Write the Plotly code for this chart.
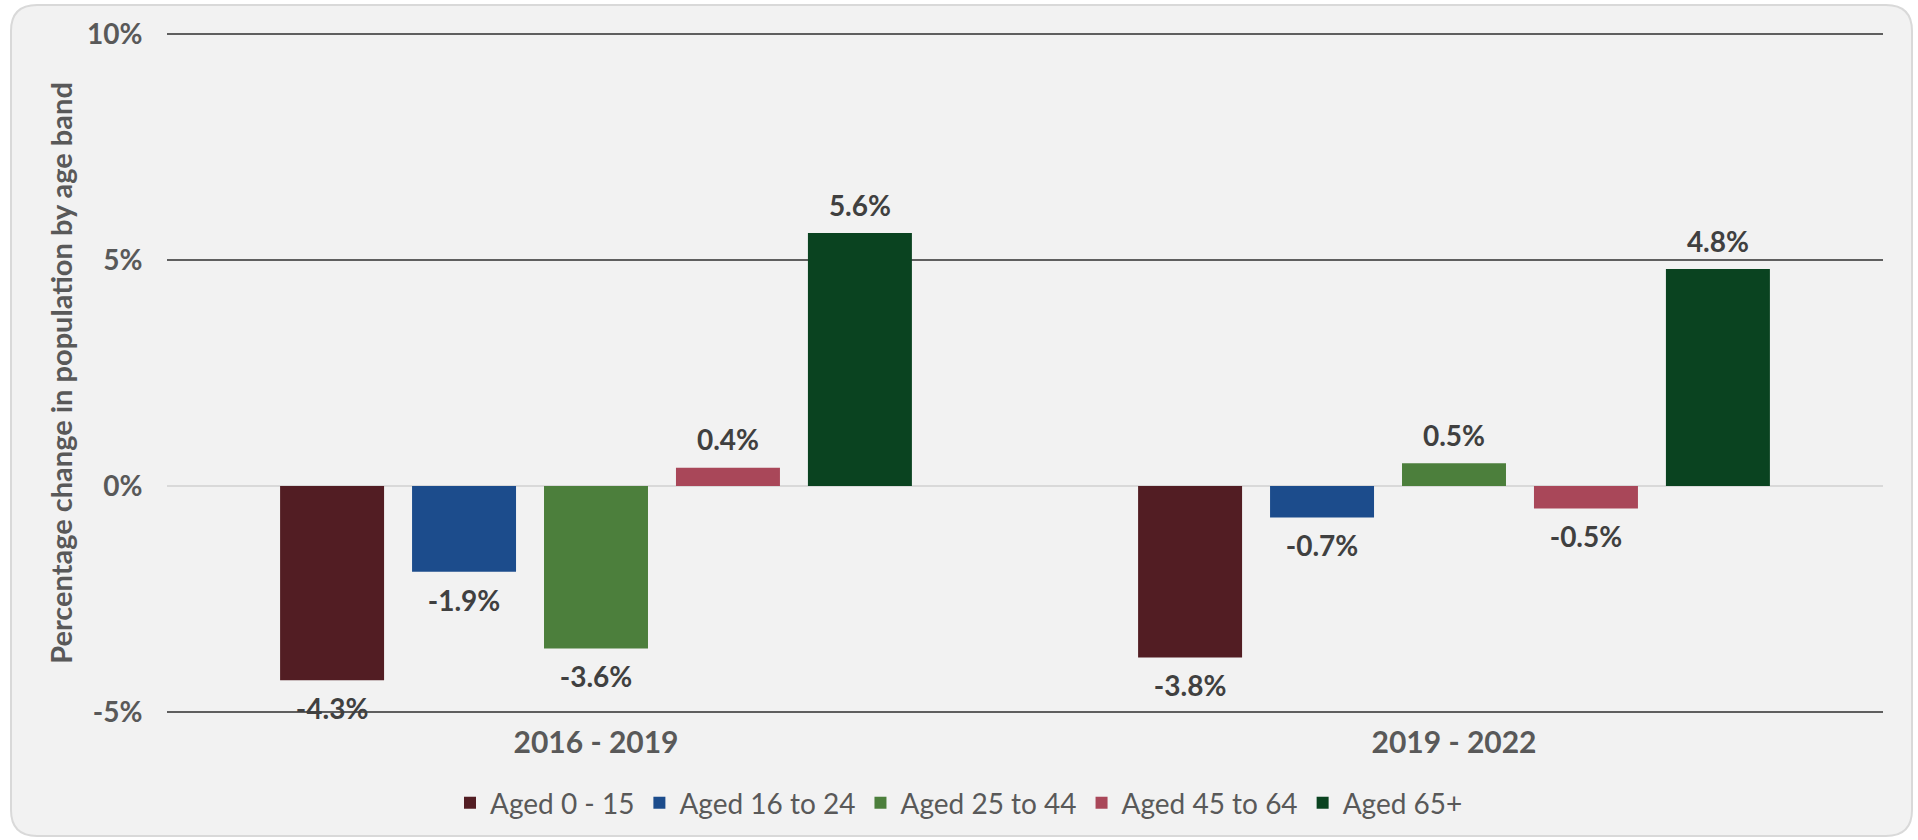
import plotly.graph_objects as go

periods = ["2016 - 2019", "2019 - 2022"]
age_bands = ["Aged 0 - 15", "Aged 16 to 24", "Aged 25 to 44", "Aged 45 to 64", "Aged 65+"]
aged_0_15 = [-4.3, -3.8]
aged_16_24 = [-1.9, -0.7]
aged_25_44 = [-3.6, 0.5]
aged_45_64 = [0.4, -0.5]
aged_65_plus = [5.6, 4.8]
series_values = [aged_0_15, aged_16_24, aged_25_44, aged_45_64, aged_65_plus]
colors = ["#521d23", "#1c4c8c", "#4c7f3c", "#a94759", "#0a4320"]
y_tickvals = [-5, 0, 5, 10]
y_ticktext = ["-5%", "0%", "5%", "10%"]

W, H = 1918, 840
ML, MR, MT, MB = 167, 35, 32, 126
PW, PH = W - ML - MR, H - MT - MB

FONT = "Lato"
LABEL_SIZE = 28

fig = go.Figure()
for i, (name, vals, col) in enumerate(zip(age_bands, series_values, colors)):
    fig.add_trace(go.Bar(
        x=periods, y=vals, name=name,
        marker=dict(color=col, line=dict(width=0)),
        offsetgroup=str(i), alignmentgroup="a",
        hoverinfo="skip",
    ))
for i, vals in enumerate(series_values):
    fig.add_trace(go.Scatter(
        x=periods, y=vals, mode="markers+text",
        text=[f"{v:.1f}%" for v in vals],
        textposition=["top center" if v >= 0 else "bottom center" for v in vals],
        marker=dict(size=[15 if v >= 0 else 27 for v in vals], opacity=0),
        textfont=dict(family=FONT, size=LABEL_SIZE, color="#404040", weight="bold"),
        offsetgroup=str(i), alignmentgroup="a",
        showlegend=False, hoverinfo="skip", cliponaxis=False,
    ))


def px(x):
    return (x - ML) / PW


def py(y):
    return (H - MB - y) / PH


x0, x1, y0, y1, r = 11, 1912, 5, 836, 26
path = (
    f"M {px(x0 + r)},{py(y0)} L {px(x1 - r)},{py(y0)} "
    f"Q {px(x1)},{py(y0)} {px(x1)},{py(y0 + r)} "
    f"L {px(x1)},{py(y1 - r)} Q {px(x1)},{py(y1)} {px(x1 - r)},{py(y1)} "
    f"L {px(x0 + r)},{py(y1)} Q {px(x0)},{py(y1)} {px(x0)},{py(y1 - r)} "
    f"L {px(x0)},{py(y0 + r)} Q {px(x0)},{py(y0)} {px(x0 + r)},{py(y0)} Z"
)

fig.update_layout(
    width=W, height=H,
    margin=dict(l=ML, r=MR, t=MT, b=MB, autoexpand=False),
    paper_bgcolor="#ffffff",
    plot_bgcolor="rgba(0,0,0,0)",
    barmode="group", bargap=0.231, bargroupgap=0.212,
    scattermode="group", scattergap=0.231,
    font=dict(family=FONT, color="#595959"),
    showlegend=True,
    legend=dict(
        orientation="h", xref="container", yref="container",
        x=0.5, xanchor="center", y=0.044, yanchor="middle",
        font=dict(family=FONT, size=28, color="#595959"),
        bgcolor="rgba(0,0,0,0)", itemclick=False, traceorder="normal",
    ),
    shapes=[dict(
        type="path", xref="paper", yref="paper", path=path,
        fillcolor="#f2f2f2", line=dict(color="#d9d9d9", width=2), layer="below",
    )],
    xaxis=dict(
        showgrid=False, zeroline=False, showline=False,
        ticks="outside", ticklen=2, tickcolor="rgba(0,0,0,0)",
        tickfont=dict(family=FONT, size=30, color="#595959", weight="bold"),
        fixedrange=True,
    ),
    yaxis=dict(
        range=[-5.05, 10.05], tickvals=y_tickvals, ticktext=y_ticktext,
        showgrid=True, gridcolor="#5f5f5f", gridwidth=2,
        zeroline=True, zerolinecolor="#d9d9d9", zerolinewidth=2,
        showline=False,
        ticks="outside", ticklen=18, tickcolor="rgba(0,0,0,0)",
        tickfont=dict(family=FONT, size=28, color="#595959", weight="bold"),
        title=dict(
            text="Percentage change in population by age band",
            font=dict(family=FONT, size=29, color="#595959", weight="bold"),
            standoff=5,
        ),
        fixedrange=True,
    ),
)

fig.write_html(
    "out.html",
    config={"displayModeBar": False},
    post_script="document.body.style.margin='0';document.body.style.overflow='hidden';",
)
